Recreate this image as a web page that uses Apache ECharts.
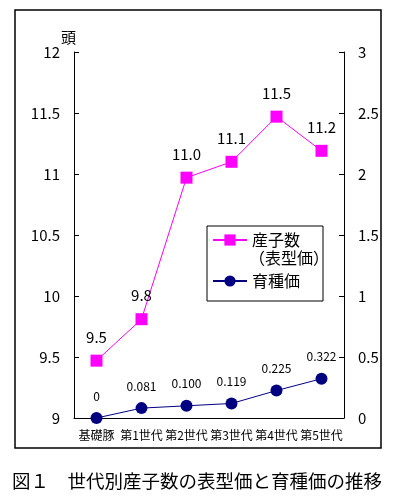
<!DOCTYPE html>
<html><head><meta charset="utf-8">
<script src="https://cdn.jsdelivr.net/npm/echarts@6/dist/echarts.min.js"></script>
<style>html,body{margin:0;padding:0;background:#fff}#c{width:395px;height:497px}</style>
</head><body><div id="c"></div>
<script>
const categories = ["基礎豚","第1世代","第2世代","第3世代","第4世代","第5世代"];
const litterSize = [9.47, 9.81, 10.97, 11.1, 11.47, 11.19];
const breedingValue = [0, 0.081, 0.100, 0.119, 0.225, 0.322];
const breedingLabels = ["0","0.081","0.100","0.119","0.225","0.322"];
const leftTicks = {min: 9, max: 12, interval: 0.5};
const rightTicks = {min: 0, max: 3, interval: 0.5};
const seriesNames = ["産子数", "育種価"];
const titleText = "図１　世代別産子数の表型価と育種価の推移";

const FONT = '"Noto Sans CJK JP", "Noto Sans", sans-serif';
const chart = echarts.init(document.getElementById('c'), null, {renderer: 'canvas'});
const axisCommon = {
  axisLine: {show: true, lineStyle: {color: '#000', width: 1}},
  axisTick: {show: true, inside: true, length: 5, lineStyle: {color: '#000'}},
  splitLine: {show: false},
  axisLabel: {color: '#000', fontFamily: FONT, fontSize: 15, margin: 14}
};
chart.setOption({
  animation: false,
  backgroundColor: '#fff',
  textStyle: {fontFamily: FONT},
  title: {
    text: titleText, left: 7, top: 467,
    textStyle: {fontFamily: FONT, fontSize: 18.5, fontWeight: 'normal', color: '#000'}
  },
  grid: {left: 74, right: 51, top: 52, bottom: 79, containLabel: false},
  legend: {
    orient: 'vertical', left: 207, top: 226,
    padding: [6, 23, 12, 5], itemGap: 25, itemWidth: 34, itemHeight: 14,
    borderColor: '#000', borderWidth: 1, backgroundColor: '#fff',
    textStyle: {fontFamily: FONT, fontSize: 16, color: '#000'},
    data: seriesNames
  },
  graphic: [
    {type: 'rect', shape: {x: 15, y: 10, width: 366, height: 438}, style: {fill: 'none', stroke: '#000', lineWidth: 1.5}, silent: true, z: -1},
    {type: 'text', left: 249, top: 250, style: {text: '（表型価）', font: '16px ' + FONT, fill: '#000'}, z: 200}
  ],
  xAxis: {
    type: 'category', data: categories, boundaryGap: true,
    axisLine: {lineStyle: {color: '#000'}},
    axisTick: {inside: true, length: 5, lineStyle: {color: '#000'}},
    axisLabel: {color: '#000', fontFamily: FONT, fontSize: 12, margin: 11, interval: 0}
  },
  yAxis: [
    Object.assign({}, axisCommon, {
      type: 'value', position: 'left', min: leftTicks.min, max: leftTicks.max, interval: leftTicks.interval,
      name: '頭', nameLocation: 'end', nameGap: 7,
      nameTextStyle: {fontFamily: FONT, fontSize: 15, color: '#000', align: 'right', verticalAlign: 'bottom', padding: [0, -2, 0, 0]}
    }),
    Object.assign({}, axisCommon, {
      type: 'value', position: 'right', min: rightTicks.min, max: rightTicks.max, interval: rightTicks.interval
    })
  ],
  series: [
    {
      name: seriesNames[0], type: 'line', yAxisIndex: 0, data: litterSize,
      symbol: 'rect', symbolSize: 12, showAllSymbol: true,
      lineStyle: {color: '#FF00FF', width: 1}, itemStyle: {color: '#FF00FF'},
      label: {show: true, position: 'top', distance: 10, color: '#000', fontFamily: FONT, fontSize: 15,
        formatter: p => litterSize[p.dataIndex].toFixed(1)}
    },
    {
      name: seriesNames[1], type: 'line', yAxisIndex: 1, data: breedingValue,
      symbol: 'circle', symbolSize: 12, showAllSymbol: true,
      lineStyle: {color: '#000080', width: 1}, itemStyle: {color: '#000080'},
      label: {show: true, position: 'top', distance: 10, color: '#000', fontFamily: FONT, fontSize: 12,
        formatter: p => breedingLabels[p.dataIndex]}
    }
  ]
});
</script></body></html>
